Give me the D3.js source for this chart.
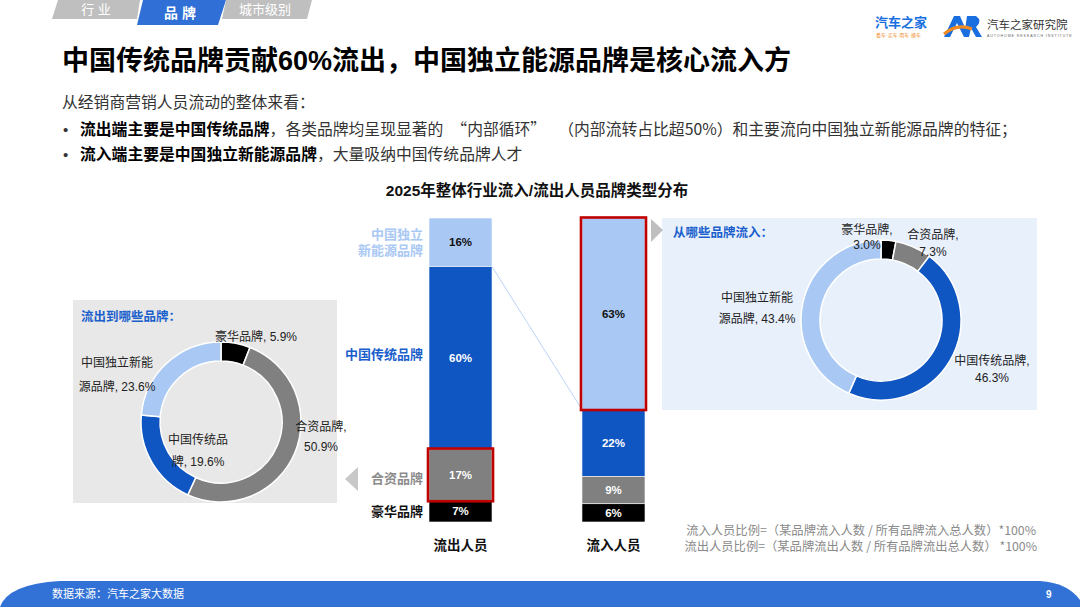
<!DOCTYPE html>
<html lang="zh">
<head>
<meta charset="utf-8">
<script src="https://d3js.org/d3.v7.min.js"></script>
<style>
  body { margin: 0; background: #fff; }
  svg text { font-family: "Liberation Sans", "Noto Sans CJK SC", sans-serif; }
  svg text.cjk { font-family: "Noto Sans CJK SC", "Liberation Sans", sans-serif; }
</style>
</head>
<body>
<script>
  var width = 1080, height = 607;

  // data
  var brandTypes = ['中国独立新能源品牌', '中国传统品牌', '合资品牌', '豪华品牌'];
  var brandColors = ['#A9C8F4', '#0F56C2', '#808080', '#000000'];
  var outflowShare = [16, 60, 17, 7];   // 流出人员
  var inflowShare = [63, 22, 9, 6];     // 流入人员
  var barNames = ['流出人员', '流入人员'];

  // donut: where outflow goes (clockwise from 12 o'clock)
  var outDonutNames = ['豪华品牌', '合资品牌', '中国传统品牌', '中国独立新能源品牌'];
  var outDonutValues = [5.9, 50.9, 19.6, 23.6];
  // donut: where inflow comes from
  var inDonutNames = ['豪华品牌', '合资品牌', '中国传统品牌', '中国独立新能源品牌'];
  var inDonutValues = [3.0, 7.3, 46.3, 43.4];

  var colorOf = d3.scaleOrdinal().domain(brandTypes).range(brandColors);

  var svg = d3.select('body').append('svg')
    .attr('width', width).attr('height', height);

  // ---- top tabs
  var tabs = [
    {t: '行 业', pts: [[58,0],[140,0],[137,19],[52,19]], fill: '#BFBFBF', y: 14, x: 96, size: 13, w: 'normal'},
    {t: '品 牌', pts: [[143,0],[226,0],[218,25],[137,25]], fill: '#2F6FD6', y: 18, x: 180, size: 14, w: 'bold'},
    {t: '城市级别', pts: [[226,0],[312,0],[307,19],[222,19]], fill: '#BFBFBF', y: 14, x: 265, size: 13, w: 'normal'}
  ];
  tabs.forEach(function(d) {
    svg.append('polygon').attr('points', d.pts.join(' ')).attr('fill', d.fill);
    svg.append('text').attr('x', d.x).attr('y', d.y).attr('text-anchor', 'middle')
      .attr('fill', '#fff').attr('font-size', d.size).attr('font-weight', d.w).text(d.t);
  });

  // ---- logos
  svg.append('text').attr('x', 875).attr('y', 27).attr('font-size', 13).attr('font-weight', 'bold')
    .attr('fill', '#1A6FE0').text('汽车之家');
  svg.append('text').attr('x', 876).attr('y', 37).attr('font-size', 5).attr('fill', '#F08A24')
    .text('看车·买车·用车·换车');
  svg.append('path').attr('d', 'M944,37 L954,16 L960,16 L969,37 L964,37 L957,23 L950,37 Z').attr('fill', '#1A6FE0');
  svg.append('path').attr('d', 'M964,37 L967,16 L976,16 Q983,21 976,27 L982,37 L976,37 L971,28 L969,37 Z').attr('fill', '#1A6FE0');
  svg.append('path').attr('d', 'M944,34 Q957,23 972,29').attr('fill', 'none').attr('stroke', '#F08A24').attr('stroke-width', 3);
  svg.append('text').attr('x', 987).attr('y', 29).attr('font-size', 11.5).attr('fill', '#333').text('汽车之家研究院');
  svg.append('text').attr('x', 987).attr('y', 37).attr('font-size', 3.6).attr('fill', '#666')
    .attr('letter-spacing', 0.9).text('AUTOHOME RESEARCH INSTITUTE');

  // ---- title
  svg.append('text').attr('x', 62).attr('y', 70).attr('font-size', 27).attr('font-weight', 'bold')
    .attr('fill', '#000').text('中国传统品牌贡献60%流出，中国独立能源品牌是核心流入方');

  // ---- intro text
  svg.append('text').attr('class', 'cjk').attr('x', 62).attr('y', 108).attr('font-size', 15.8).attr('fill', '#333')
    .text('从经销商营销人员流动的整体来看：');
  var bullets = [
    [['流出端主要是中国传统品牌', 0, true], ['，各类品牌均呈现显著的', 0], ['“内部循环”', 8], ['（内部流转占比超50%）和主要流向中国独立新能源品牌的特征；', 20]],
    [['流入端主要是中国独立新能源品牌', 0, true], ['，大量吸纳中国传统品牌人才', 0]]
  ];
  bullets.forEach(function(b, i) {
    var y = 135 + i * 25;
    svg.append('text').attr('x', 63).attr('y', y).attr('font-size', 15).attr('fill', '#333').text('•');
    var t = svg.append('text').attr('class', 'cjk').attr('x', 80).attr('y', y).attr('font-size', 15.8).attr('fill', '#333');
    b.forEach(function(p) {
      t.append('tspan').attr('dx', p[1])
        .attr('font-weight', p[2] ? 'bold' : 'normal')
        .attr('fill', p[2] ? '#000' : '#333').text(p[0]);
    });
  });

  svg.append('text').attr('x', 537).attr('y', 196).attr('text-anchor', 'middle')
    .attr('font-size', 15.5).attr('font-weight', 'bold').attr('fill', '#111')
    .text('2025年整体行业流入/流出人员品牌类型分布');

  // ---- panels
  svg.append('rect').attr('x', 73).attr('y', 300).attr('width', 264).attr('height', 203).attr('fill', '#E8E8E8');
  svg.append('rect').attr('x', 662).attr('y', 218).attr('width', 375).attr('height', 192).attr('fill', '#E8F0FC');
  svg.append('polygon').attr('points', '651,219 663,230 651,242').attr('fill', '#BFBFBF');
  svg.append('polygon').attr('points', '358,467 345,479 358,491').attr('fill', '#C8C8C8');

  svg.append('text').attr('x', 81).attr('y', 321).attr('font-size', 12.5).attr('font-weight', 'bold')
    .attr('fill', '#1A5FCC').text('流出到哪些品牌：');
  svg.append('text').attr('x', 673).attr('y', 237).attr('font-size', 12.5).attr('font-weight', 'bold')
    .attr('fill', '#1A5FCC').text('从哪些品牌流入：');

  // ---- stacked bars
  var x = d3.scaleBand().domain(barNames).range([429, 645]).paddingInner(0.588).paddingOuter(0);
  var y = d3.scaleLinear().domain([0, 100]).range([522, 218]);

  var series = [outflowShare, inflowShare];
  var barG = svg.append('g');
  var segs = [];
  series.forEach(function(vals, j) {
    var top = 100;
    vals.forEach(function(v, i) {
      segs.push({bar: barNames[j], type: brandTypes[i], v: v, y0: top - v, y1: top});
      top -= v;
    });
  });

  barG.selectAll('rect').data(segs).join('rect')
    .attr('x', function(d) { return x(d.bar); })
    .attr('width', x.bandwidth())
    .attr('y', function(d) { return y(d.y1); })
    .attr('height', function(d) { return y(d.y0) - y(d.y1); })
    .attr('fill', function(d) { return colorOf(d.type); })
    .attr('stroke', '#fff').attr('stroke-width', 0.6);

  barG.selectAll('text').data(segs).join('text')
    .attr('x', function(d) { return x(d.bar) + x.bandwidth() / 2; })
    .attr('y', function(d) { return (y(d.y0) + y(d.y1)) / 2 + 4; })
    .attr('text-anchor', 'middle').attr('font-size', 11.5).attr('font-weight', 'bold')
    .attr('fill', function(d) { return d.type === brandTypes[0] ? '#111' : '#fff'; })
    .text(function(d) { return d.v + '%'; });

  // connector line between bars
  var s1 = segs[1], s2 = segs[4];
  svg.append('line')
    .attr('x1', x(barNames[0]) + x.bandwidth()).attr('y1', y(s1.y1))
    .attr('x2', x(barNames[1])).attr('y2', y(s2.y0))
    .attr('stroke', '#A9C8F4').attr('stroke-width', 0.8);

  // red highlight boxes
  [segs[2], segs[4]].forEach(function(d) {
    svg.append('rect')
      .attr('x', x(d.bar) - 1).attr('width', x.bandwidth() + 2)
      .attr('y', y(d.y1) - 0.5).attr('height', y(d.y0) - y(d.y1) + 1)
      .attr('fill', 'none').attr('stroke', '#C00000').attr('stroke-width', 2.6);
  });

  barG.selectAll('.xl').data(barNames).join('text')
    .attr('x', function(d) { return x(d) + x.bandwidth() / 2; })
    .attr('y', 550).attr('text-anchor', 'middle')
    .attr('font-size', 13.5).attr('font-weight', 'bold').attr('fill', '#111')
    .text(function(d) { return d; });

  // category labels on the left of outflow bar
  var catLabels = [
    {lines: ['中国独立', '新能源品牌'], color: '#A9C8F4'},
    {lines: ['中国传统品牌'], color: '#1A5FCC'},
    {lines: ['合资品牌'], color: '#8C8C8C'},
    {lines: ['豪华品牌'], color: '#111'}
  ];
  catLabels.forEach(function(c, i) {
    var d = segs[i];
    var cy = (y(d.y0) + y(d.y1)) / 2;
    if (i === 1) cy = 354;
    if (i === 2) cy = 478;
    var n = c.lines.length;
    c.lines.forEach(function(l, k) {
      svg.append('text').attr('x', 423).attr('y', cy + 5 + (k - (n - 1) / 2) * 16)
        .attr('text-anchor', 'end').attr('font-size', 13).attr('font-weight', 'bold')
        .attr('fill', c.color).text(l);
    });
  });

  // ---- donuts
  function fmt(v) { return v.toFixed(1) + '%'; }

  function donut(cx, cy, names, values, labels) {
    var pie = d3.pie().sort(null).value(function(d) { return d; });
    var arc = d3.arc().innerRadius(61).outerRadius(80);
    var g = svg.append('g').attr('transform', 'translate(' + cx + ',' + cy + ')');
    g.selectAll('path').data(pie(values)).join('path')
      .attr('d', arc)
      .attr('fill', function(d, i) { return colorOf(names[i]); })
      .attr('stroke', '#fff').attr('stroke-width', 1.5);
    labels.forEach(function(l, i) {
      l.lines(names[i], fmt(values[i])).forEach(function(t, k) {
        g.append('text').attr('x', l.x).attr('y', l.y + k * l.dy)
          .attr('text-anchor', 'middle')
          .attr('font-size', 12).attr('fill', '#222').text(t);
      });
    });
  }

  donut(221, 422, outDonutNames, outDonutValues, [
    {x: 35, y: -81, dy: 0, lines: function(n, v) { return [n + ', ' + v]; }},
    {x: 100, y: 9, dy: 20, lines: function(n, v) { return [n + ',', v]; }},
    {x: -23, y: 22, dy: 22, lines: function(n, v) { return ['中国传统品', '牌, ' + v]; }},
    {x: -104, y: -55, dy: 24, lines: function(n, v) { return ['中国独立新能', '源品牌, ' + v]; }}
  ]);

  donut(881, 320, inDonutNames, inDonutValues, [
    {x: -14, y: -86, dy: 15, lines: function(n, v) { return [n + ',', v]; }},
    {x: 52, y: -81, dy: 17, lines: function(n, v) { return [n + ',', v]; }},
    {x: 111, y: 45, dy: 17, lines: function(n, v) { return [n + ',', v]; }},
    {x: -124, y: -18, dy: 21, lines: function(n, v) { return ['中国独立新能', '源品牌, ' + v]; }}
  ]);

  // ---- footnote
  svg.append('text').attr('class', 'cjk').attr('x', 1036).attr('y', 535).attr('text-anchor', 'end')
    .attr('font-size', 12.3).attr('fill', '#8A8A8A')
    .text('流入人员比例=（某品牌流入人数 / 所有品牌流入总人数）*100%');
  svg.append('text').attr('class', 'cjk').attr('x', 1037).attr('y', 551).attr('text-anchor', 'end')
    .attr('font-size', 12.3).attr('fill', '#8A8A8A')
    .text('流出人员比例=（某品牌流出人数 / 所有品牌流出总人数） *100%');

  // ---- footer band
  svg.append('path')
    .attr('d', 'M0,607 Q8,584 60,581 L1040,581 Q1068,583 1080,600 L1080,607 Z')
    .attr('fill', '#3272D7');
  svg.append('text').attr('x', 52).attr('y', 598).attr('font-size', 11).attr('fill', '#fff')
    .text('数据来源：汽车之家大数据');
  svg.append('text').attr('x', 1046).attr('y', 598).attr('font-size', 10).attr('font-weight', 'bold')
    .attr('fill', '#fff').text('9');
</script>
</body>
</html>
